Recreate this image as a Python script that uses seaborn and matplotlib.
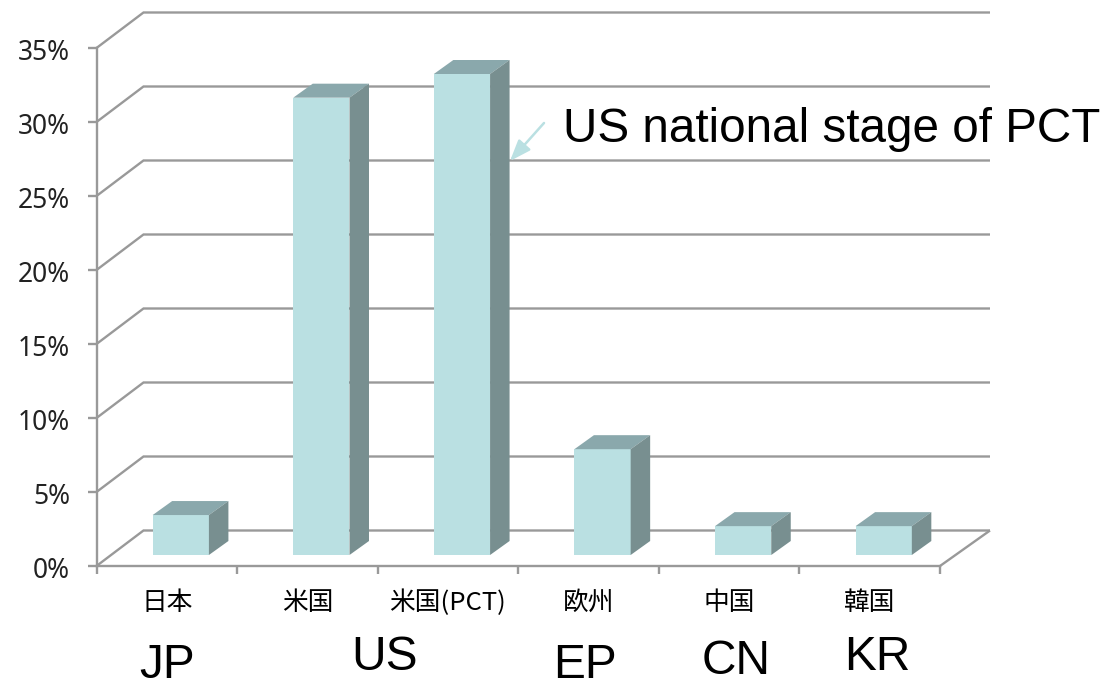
import matplotlib
matplotlib.use("Agg")
import matplotlib.pyplot as plt
import seaborn as sns
from matplotlib.lines import Line2D
from matplotlib.patches import Polygon
from matplotlib.transforms import Affine2D, IdentityTransform

categories = ["日本", "米国", "米国(PCT)", "欧州", "中国", "韓国"]
values = [2.7, 30.9, 32.5, 7.15, 1.95, 1.95]
y_ticks = [0, 5, 10, 15, 20, 25, 30, 35]
y_labels = ["0%", "5%", "10%", "15%", "20%", "25%", "30%", "35%"]
english_labels = ["JP", "US", "EP", "CN", "KR"]

W, H = 1108, 683
FRONT = "#BAE0E2"
TOP = "#8AA8AC"
SIDE = "#788F90"
GRID = "#999999"
LW = 1.7

sns.set_theme(style="white")
plt.rcParams["font.family"] = ["Noto Sans", "DejaVu Sans"]

fig = plt.figure(figsize=(W / 100, H / 100), dpi=100, facecolor="white")
ax = fig.add_axes([96.5 / W, (H - 566) / H, 843.5 / W, 518 / H])

sns.barplot(x=categories, y=values, width=0.4, color=FRONT, saturation=1,
            ax=ax, zorder=3, linewidth=0)
ax.set_xlim(-0.5, len(categories) - 0.5)
ax.set_ylim(0, 35)
ax.set_xlabel("")
ax.set_ylabel("")

# pseudo-3D geometry, in pixels
wall_dx_left, wall_dx_right, wall_dy = 47, 50, 35.5
bar_dx, bar_dy = 14, 11
depth_dx, depth_dy = 19.5, 14

def px(x, y):
    return ax.transData.transform((x, y))

def add_line(xs, ys, z=1):
    ax.add_line(Line2D(xs, ys, color=GRID, lw=LW, transform=IdentityTransform(),
                       clip_on=False, zorder=z, solid_joinstyle="miter",
                       solid_capstyle="butt"))

x0, x1 = ax.get_xlim()
for v in y_ticks:
    (lx, ly), (rx, _) = px(x0, v), px(x1, v)
    add_line([lx, lx + wall_dx_left, rx + wall_dx_right],
             [ly, ly + wall_dy, ly + wall_dy])
(rx, ry) = px(x1, 0)
add_line([rx, rx + wall_dx_right], [ry, ry + wall_dy])

# bars: shift the front faces into the floor, add top and side faces
shift = Affine2D().translate(bar_dx, bar_dy)
for patch in list(ax.patches)[:len(categories)]:
    xl, xr = patch.get_x(), patch.get_x() + patch.get_width()
    h = patch.get_height()
    patch.set_transform(ax.transData + shift)
    patch.set_clip_on(False)
    (ax_l, ay_b), (ax_r, ay_t) = px(xl, 0), px(xr, h)
    ax_l += bar_dx; ax_r += bar_dx; ay_b += bar_dy; ay_t += bar_dy
    ax.add_patch(Polygon([(ax_l, ay_t), (ax_r, ay_t),
                          (ax_r + depth_dx, ay_t + depth_dy),
                          (ax_l + depth_dx, ay_t + depth_dy)],
                         closed=True, fc=TOP, ec="none", zorder=3,
                         transform=IdentityTransform(), clip_on=False))
    ax.add_patch(Polygon([(ax_r, ay_b), (ax_r, ay_t),
                          (ax_r + depth_dx, ay_t + depth_dy),
                          (ax_r + depth_dx, ay_b + depth_dy)],
                         closed=True, fc=SIDE, ec="none", zorder=3,
                         transform=IdentityTransform(), clip_on=False))

# axes
for name, sp in ax.spines.items():
    sp.set_visible(name in ("left", "bottom"))
    sp.set_color(GRID)
    sp.set_linewidth(LW)
    sp.set_zorder(2)

ax.set_yticks(y_ticks, y_labels)
ax.tick_params(axis="y", length=6.5, width=LW, color=GRID, pad=12.5,
               labelsize=19, labelcolor="#222222", left=True)
label_shift = Affine2D().translate(0, -2)
for lab in ax.get_yticklabels():
    lab.set_transform(lab.get_transform() + label_shift)
ax.set_xticks(range(len(categories)), categories)
ax.set_xticks([i - 0.5 for i in range(len(categories) + 1)], minor=True)
ax.tick_params(axis="x", which="major", length=0, pad=17, labelsize=18.5, labelcolor="black")
ax.tick_params(axis="x", which="minor", length=6, width=LW, color=GRID, bottom=True)
for lab in ax.get_xticklabels():
    lab.set_fontfamily(["Noto Sans CJK JP", "DejaVu Sans"])

# overlaid annotations (pixel positions from the top-left)
def fig_xy(x, y):
    return (x / W, 1 - y / H)

for text, (tx, ty) in zip(english_labels, [(167, 660), (385, 653), (585, 661), (736, 657), (877, 653)]):
    fig.text(*fig_xy(tx, ty), text, ha="center", va="center_baseline", fontsize=34.5,
             fontfamily="Liberation Sans", color="black")
fig.text(*fig_xy(563, 124), "US national stage of PCT", ha="left", va="center_baseline",
         fontsize=34.3, fontfamily="Liberation Sans", color="black")
ax.annotate("", xy=fig_xy(510, 161), xytext=fig_xy(544, 123),
            xycoords="figure fraction", textcoords="figure fraction",
            arrowprops=dict(arrowstyle="-|>,head_length=0.8,head_width=0.3", color=FRONT,
                            lw=1.8, shrinkA=0, shrinkB=0, mutation_scale=16),
            annotation_clip=False, zorder=5)

fig.savefig("out.png", dpi=100, facecolor="white")
